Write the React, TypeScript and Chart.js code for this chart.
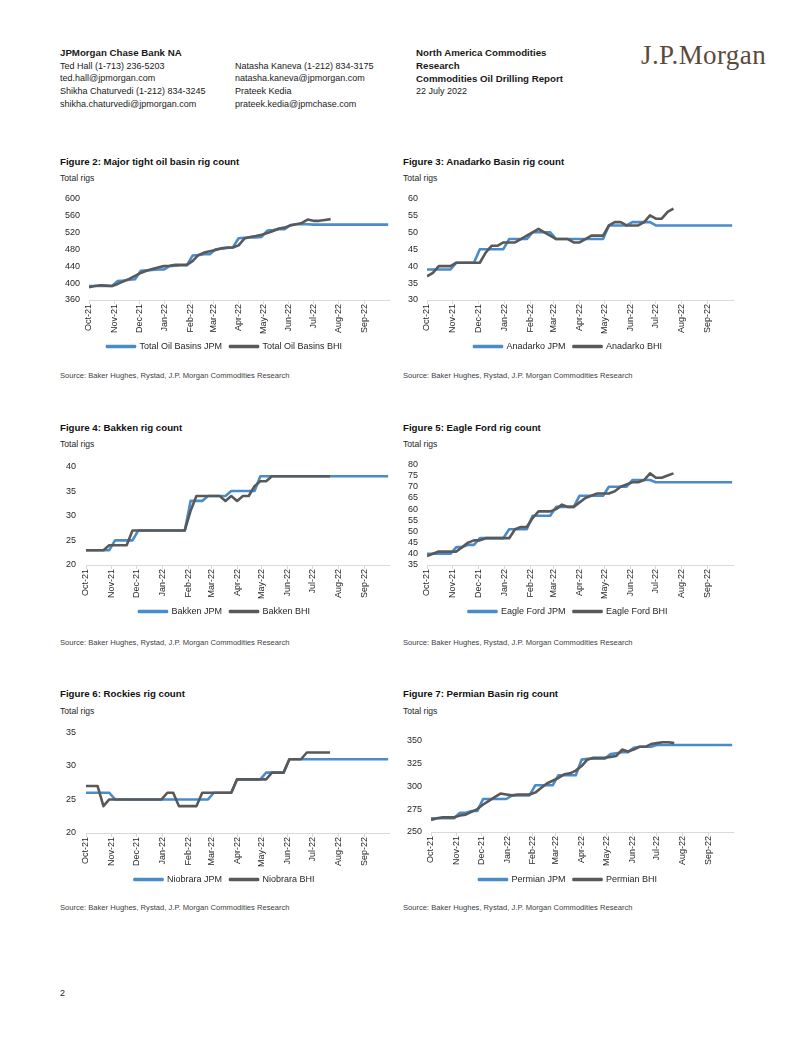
import React, { useEffect, useRef } from 'react';
import { Chart, registerables } from 'chart.js';

Chart.register(...registerables);

const FONT = '"Liberation Sans", Arial, Helvetica, sans-serif';
const JPM_COLOR = '#4a8bc9';
const BHI_COLOR = '#595959';
const TEXT = '#262626';
const AXIS = '#d9d9d9';

// Weekly observation dates as days since 1 Oct 2021 (Fridays)
const WEEK_DAYS = [0, 7, 14, 21, 28, 35, 42, 49, 56, 63, 70, 77, 84, 91, 98, 105, 112, 119, 126, 133, 140, 147, 154, 161, 168, 175, 182, 189, 196, 203, 210, 217, 224, 231, 238, 245, 252, 259, 266, 273, 280, 287, 294, 301, 308, 315, 322, 329, 336, 343, 350, 357, 364];

// Month tick positions (days since 1 Oct 2021) and labels
const MONTH_TICK_DAYS = [0, 31, 61, 92, 123, 151, 182, 212, 243, 273, 304, 335, 365];
const MONTH_LABELS = ['Oct-21', 'Nov-21', 'Dec-21', 'Jan-22', 'Feb-22', 'Mar-22', 'Apr-22', 'May-22', 'Jun-22', 'Jul-22', 'Aug-22', 'Sep-22', ''];

// Figure 2: Major tight oil basins
const TOTAL_JPM = [393, 393, 393, 393, 393, 405, 406, 408, 409, 429, 430, 431, 432, 432, 440, 441, 442, 442, 465, 466, 468, 468, 480, 481, 483, 484, 506, 507, 508, 508, 509, 524, 525, 527, 527, 537, 539, 539, 539, 538, 538, 538, 538, 538, 538, 538, 538, 538, 538, 538, 538, 538, 538];
const TOTAL_BHI = [390, 393, 395, 394, 393, 398, 404, 410, 417, 424, 429, 433, 437, 440, 441, 443, 443, 443, 452, 466, 472, 475, 478, 482, 484, 484, 489, 505, 509, 511, 514, 518, 523, 529, 531, 536, 539, 542, 550, 547, 547, 549, 551];

// Figure 3: Anadarko
const ANADARKO_JPM = [39, 39, 39, 39, 39, 41, 41, 41, 41, 45, 45, 45, 45, 45, 48, 48, 48, 48, 50, 50, 50, 50, 48, 48, 48, 48, 48, 48, 48, 48, 48, 52, 52, 52, 52, 53, 53, 53, 53, 52, 52, 52, 52, 52, 52, 52, 52, 52, 52, 52, 52, 52, 52];
const ANADARKO_BHI = [37, 38, 40, 40, 40, 41, 41, 41, 41, 41, 44, 46, 46, 47, 47, 47, 48, 49, 50, 51, 50, 49, 48, 48, 48, 47, 47, 48, 49, 49, 49, 52, 53, 53, 52, 52, 52, 53, 55, 54, 54, 56, 57];

// Figure 4: Bakken
const BAKKEN_JPM = [23, 23, 23, 23, 23, 25, 25, 25, 25, 27, 27, 27, 27, 27, 27, 27, 27, 27, 33, 33, 33, 34, 34, 34, 34, 35, 35, 35, 35, 35, 38, 38, 38, 38, 38, 38, 38, 38, 38, 38, 38, 38, 38, 38, 38, 38, 38, 38, 38, 38, 38, 38, 38];
const BAKKEN_BHI = [23, 23, 23, 23, 24, 24, 24, 24, 27, 27, 27, 27, 27, 27, 27, 27, 27, 27, 31, 34, 34, 34, 34, 34, 33, 34, 33, 34, 34, 36, 37, 37, 38, 38, 38, 38, 38, 38, 38, 38, 38, 38, 38];

// Figure 5: Eagle Ford
const EAGLE_JPM = [40, 40, 40, 40, 40, 43, 43, 44, 44, 47, 47, 47, 47, 47, 51, 51, 51, 51, 57, 57, 57, 57, 61, 61, 61, 61, 66, 66, 66, 66, 66, 70, 70, 70, 70, 73, 73, 73, 73, 72, 72, 72, 72, 72, 72, 72, 72, 72, 72, 72, 72, 72, 72];
const EAGLE_BHI = [39, 40, 41, 41, 41, 41, 43, 45, 46, 46, 47, 47, 47, 47, 47, 51, 52, 52, 56, 59, 59, 59, 60, 62, 61, 61, 63, 65, 66, 67, 67, 67, 68, 70, 71, 72, 72, 73, 76, 74, 74, 75, 76];

// Figure 6: Rockies (Niobrara)
const NIOBRARA_JPM = [26, 26, 26, 26, 26, 25, 25, 25, 25, 25, 25, 25, 25, 25, 25, 25, 25, 25, 25, 25, 25, 25, 26, 26, 26, 26, 28, 28, 28, 28, 28, 29, 29, 29, 29, 31, 31, 31, 31, 31, 31, 31, 31, 31, 31, 31, 31, 31, 31, 31, 31, 31, 31];
const NIOBRARA_BHI = [27, 27, 27, 24, 25, 25, 25, 25, 25, 25, 25, 25, 25, 25, 26, 26, 24, 24, 24, 24, 26, 26, 26, 26, 26, 26, 28, 28, 28, 28, 28, 28, 29, 29, 29, 31, 31, 31, 32, 32, 32, 32, 32];

// Figure 7: Permian
const PERMIAN_JPM = [265, 265, 265, 265, 265, 271, 271, 273, 273, 286, 286, 286, 286, 286, 290, 290, 290, 290, 301, 301, 301, 301, 312, 312, 312, 312, 329, 330, 330, 330, 330, 335, 336, 337, 337, 342, 343, 343, 343, 345, 345, 345, 345, 345, 345, 345, 345, 345, 345, 345, 345, 345, 345];
const PERMIAN_BHI = [263, 265, 266, 266, 266, 268, 269, 272, 275, 280, 284, 288, 292, 291, 290, 291, 291, 291, 293, 298, 303, 306, 309, 313, 314, 317, 322, 329, 331, 331, 331, 332, 333, 340, 338, 340, 343, 343, 346, 347, 348, 348, 347];

type Spec = {
  title: string;
  jpmLabel: string;
  bhiLabel: string;
  jpm: number[];
  bhi: number[];
  yMin: number;
  yMax: number;
  yStep: number;
  left: number;
  top: number;
  width: number;
  height: number;
  yW: number;
  xH: number;
  tickPad: number;
  titleY: number;
  unitY: number;
  sourceY: number;
};

const SPECS: Spec[] = [
  { title: 'Figure 2: Major tight oil basin rig count', jpmLabel: 'Total Oil Basins JPM', bhiLabel: 'Total Oil Basins BHI', jpm: TOTAL_JPM, bhi: TOTAL_BHI, yMin: 360, yMax: 600, yStep: 40, left: 60, top: 184, width: 335, height: 177, yW: 29, xH: 34, tickPad: 9, titleY: 162, unitY: 178, sourceY: 376 },
  { title: 'Figure 3: Anadarko Basin rig count', jpmLabel: 'Anadarko JPM', bhiLabel: 'Anadarko BHI', jpm: ANADARKO_JPM, bhi: ANADARKO_BHI, yMin: 30, yMax: 60, yStep: 5, left: 403, top: 184, width: 336, height: 177, yW: 24, xH: 34, tickPad: 9, titleY: 162, unitY: 178, sourceY: 376 },
  { title: 'Figure 4: Bakken rig count', jpmLabel: 'Bakken JPM', bhiLabel: 'Bakken BHI', jpm: BAKKEN_JPM, bhi: BAKKEN_BHI, yMin: 20, yMax: 40, yStep: 5, left: 60, top: 451, width: 335, height: 175, yW: 26, xH: 34, tickPad: 10, titleY: 428, unitY: 444, sourceY: 643 },
  { title: 'Figure 5: Eagle Ford rig count', jpmLabel: 'Eagle Ford JPM', bhiLabel: 'Eagle Ford BHI', jpm: EAGLE_JPM, bhi: EAGLE_BHI, yMin: 35, yMax: 80, yStep: 5, left: 403, top: 450, width: 336, height: 176, yW: 24, xH: 34, tickPad: 9, titleY: 428, unitY: 444, sourceY: 643 },
  { title: 'Figure 6: Rockies rig count', jpmLabel: 'Niobrara JPM', bhiLabel: 'Niobrara BHI', jpm: NIOBRARA_JPM, bhi: NIOBRARA_BHI, yMin: 20, yMax: 35, yStep: 5, left: 60, top: 717, width: 335, height: 177, yW: 26, xH: 34, tickPad: 10, titleY: 694, unitY: 711, sourceY: 908 },
  { title: 'Figure 7: Permian Basin rig count', jpmLabel: 'Permian JPM', bhiLabel: 'Permian BHI', jpm: PERMIAN_JPM, bhi: PERMIAN_BHI, yMin: 250, yMax: 350, yStep: 25, left: 403, top: 726, width: 336, height: 168, yW: 28, xH: 35, tickPad: 9, titleY: 694, unitY: 711, sourceY: 908 },
];

const SOURCE = 'Source: Baker Hughes, Rystad, J.P. Morgan Commodities Research';

function Txt(props: { x: number; cy: number; size: number; bold?: boolean; color?: string; family?: string; spacing?: number; children: React.ReactNode }) {
  const lh = Math.round(props.size * 1.25);
  return (
    <div
      style={{
        position: 'absolute',
        left: props.x,
        top: props.cy - lh / 2,
        fontSize: props.size,
        lineHeight: lh + 'px',
        fontWeight: props.bold ? 700 : 400,
        color: props.color || '#1a1a1a',
        fontFamily: props.family || FONT,
        letterSpacing: props.spacing || 0,
        whiteSpace: 'nowrap',
      }}
    >
      {props.children}
    </div>
  );
}

function RigChart({ spec }: { spec: Spec }) {
  const ref = useRef<HTMLCanvasElement | null>(null);
  useEffect(() => {
    if (!ref.current) return;
    const tickFont = { family: FONT, size: 9 };
    const chart = new Chart(ref.current, {
      type: 'line',
      data: {
        datasets: [
          {
            label: spec.jpmLabel,
            data: spec.jpm.map((v, i) => ({ x: WEEK_DAYS[i], y: v })),
            borderColor: JPM_COLOR,
            backgroundColor: JPM_COLOR,
            borderWidth: 2.6,
            pointRadius: 0,
            tension: 0,
            borderJoinStyle: 'round',
            order: 1,
          },
          {
            label: spec.bhiLabel,
            data: spec.bhi.map((v, i) => ({ x: WEEK_DAYS[i], y: v })),
            borderColor: BHI_COLOR,
            backgroundColor: BHI_COLOR,
            borderWidth: 2.6,
            pointRadius: 0,
            tension: 0,
            borderJoinStyle: 'round',
            order: 0,
          },
        ],
      },
      options: {
        animation: false,
        responsive: false,
        maintainAspectRatio: false,
        layout: { padding: { top: 8, right: 6, left: 0, bottom: 0 } },
        plugins: {
          legend: {
            position: 'bottom',
            labels: {
              boxWidth: 28,
              boxHeight: 1,
              padding: 8,
              color: TEXT,
              font: { family: FONT, size: 9 },
              sort: (a: any, b: any) => a.datasetIndex - b.datasetIndex,
            },
          },
          tooltip: { enabled: false },
        },
        scales: {
          x: {
            type: 'linear',
            min: 0,
            max: 365,
            afterBuildTicks: (s: any) => {
              s.ticks = MONTH_TICK_DAYS.map((v) => ({ value: v }));
            },
            afterFit: (s: any) => {
              s.height = spec.xH;
            },
            ticks: {
              autoSkip: false,
              maxRotation: 90,
              minRotation: 90,
              padding: 0,
              color: TEXT,
              font: tickFont,
              callback: (_v: any, i: number) => MONTH_LABELS[i] || null,
            },
            grid: { display: true, drawOnChartArea: false, drawTicks: true, tickLength: 4, color: AXIS },
            border: { display: true, color: AXIS, width: 1 },
          },
          y: {
            min: spec.yMin,
            max: spec.yMax,
            afterFit: (s: any) => {
              s.width = spec.yW;
            },
            ticks: { stepSize: spec.yStep, autoSkip: false, padding: spec.tickPad, color: TEXT, font: tickFont },
            grid: { display: false, drawTicks: false },
            border: { display: false },
          },
        },
      } as any,
    });
    return () => chart.destroy();
  }, [spec]);
  return (
    <canvas
      ref={ref}
      width={spec.width}
      height={spec.height}
      style={{ position: 'absolute', left: spec.left, top: spec.top, width: spec.width, height: spec.height }}
    />
  );
}

export default function App() {
  return (
    <div style={{ position: 'absolute', left: 0, top: 0, width: 802, height: 1037, background: '#fff', fontFamily: FONT, overflow: 'hidden' }}>
      <Txt x={60} cy={53} size={9.7} bold>JPMorgan Chase Bank NA</Txt>
      <Txt x={60} cy={66} size={9}>Ted Hall (1-713) 236-5203</Txt>
      <Txt x={60} cy={78} size={9}>ted.hall@jpmorgan.com</Txt>
      <Txt x={60} cy={91} size={9}>Shikha Chaturvedi (1-212) 834-3245</Txt>
      <Txt x={60} cy={104} size={9}>shikha.chaturvedi@jpmorgan.com</Txt>

      <Txt x={235} cy={66} size={9}>Natasha Kaneva (1-212) 834-3175</Txt>
      <Txt x={235} cy={78} size={9}>natasha.kaneva@jpmorgan.com</Txt>
      <Txt x={235} cy={91} size={9}>Prateek Kedia</Txt>
      <Txt x={235} cy={104} size={9}>prateek.kedia@jpmchase.com</Txt>

      <Txt x={416} cy={53} size={9.7} bold>North America Commodities</Txt>
      <Txt x={416} cy={66} size={9.7} bold>Research</Txt>
      <Txt x={416} cy={79} size={9.7} bold>Commodities Oil Drilling Report</Txt>
      <Txt x={416} cy={91} size={9}>22 July 2022</Txt>

      <Txt x={641} cy={55} size={27} family={'"Liberation Serif", "Times New Roman", serif'} color="#5b4a3c" spacing={0.4}>J.P.Morgan</Txt>

      {SPECS.map((s) => (
        <React.Fragment key={s.title}>
          <Txt x={s.left} cy={s.titleY} size={9.7} bold color="#111">{s.title}</Txt>
          <Txt x={s.left} cy={s.unitY} size={8.6} color={TEXT}>Total rigs</Txt>
          <RigChart spec={s} />
          <Txt x={s.left} cy={s.sourceY} size={7.6} color="#404040">{SOURCE}</Txt>
        </React.Fragment>
      ))}

      <Txt x={60} cy={993} size={9}>2</Txt>
    </div>
  );
}
